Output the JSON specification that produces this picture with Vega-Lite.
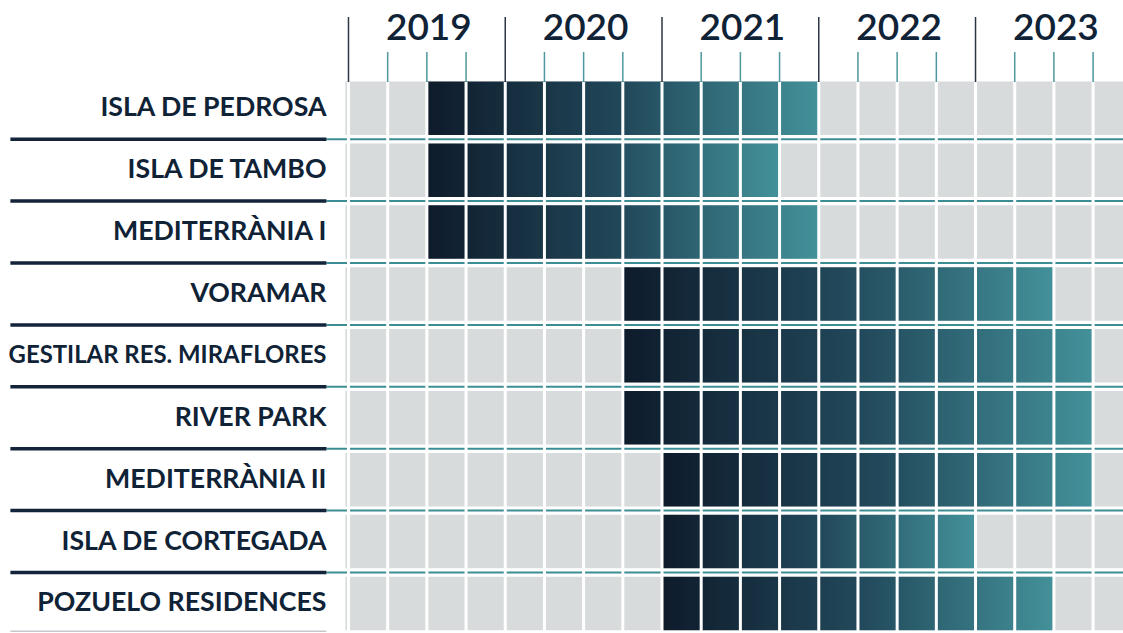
{
  "$schema": "https://vega.github.io/schema/vega-lite/v6.json",
  "width": 1123,
  "height": 633,
  "autosize": {"type": "none"},
  "padding": 0,
  "background": "white",
  "config": {"view": {"stroke": null}, "axis": {"disable": true}},
  "datasets": {
    "projects": [
      {"project": "ISLA DE PEDROSA", "row": 0, "start": 2, "end": 12},
      {"project": "ISLA DE TAMBO", "row": 1, "start": 2, "end": 11},
      {"project": "MEDITERRÀNIA I", "row": 2, "start": 2, "end": 12},
      {"project": "VORAMAR", "row": 3, "start": 7, "end": 18},
      {"project": "GESTILAR RES. MIRAFLORES", "row": 4, "start": 7, "end": 19},
      {"project": "RIVER PARK", "row": 5, "start": 7, "end": 19},
      {"project": "MEDITERRÀNIA II", "row": 6, "start": 8, "end": 19},
      {"project": "ISLA DE CORTEGADA", "row": 7, "start": 8, "end": 16},
      {"project": "POZUELO RESIDENCES", "row": 8, "start": 8, "end": 18}
    ],
    "quarters": [
      {"k": 0}, {"k": 1}, {"k": 2}, {"k": 3}, {"k": 4}, {"k": 5}, {"k": 6}, {"k": 7}, {"k": 8}, {"k": 9},
      {"k": 10}, {"k": 11}, {"k": 12}, {"k": 13}, {"k": 14}, {"k": 15}, {"k": 16}, {"k": 17}, {"k": 18}, {"k": 19}
    ],
    "years": [
      {"year": "2019", "start": 0, "mid": 2},
      {"year": "2020", "start": 4, "mid": 6},
      {"year": "2021", "start": 8, "mid": 10},
      {"year": "2022", "start": 12, "mid": 14},
      {"year": "2023", "start": 16, "mid": 18}
    ],
    "rowlines": [
      {"b": 0.5}, {"b": 1.5}, {"b": 2.5}, {"b": 3.5}, {"b": 4.5}, {"b": 5.5}, {"b": 6.5}, {"b": 7.5}
    ]
  },
  "layer": [
    {
      "data": {"name": "projects"},
      "mark": {"type": "bar", "size": 53.5, "color": "#d8dbdc"},
      "encoding": {
        "x": {"datum": -0.08, "type": "quantitative", "scale": {"domain": [-8.892, 19.763], "nice": false, "zero": false, "padding": 0}},
        "x2": {"datum": 19.763},
        "y": {"field": "row", "type": "quantitative", "scale": {"domain": [-1.7488, 8.4774], "reverse": true, "nice": false, "zero": false, "padding": 0}}
      }
    },
    {
      "data": {"name": "projects"},
      "mark": {
        "type": "bar",
        "size": 53.5,
        "color": {
          "gradient": "linear",
          "x1": 0, "y1": 0, "x2": 1, "y2": 0,
          "stops": [
            {"offset": 0, "color": "#0e1b2b"},
            {"offset": 0.5, "color": "#21485a"},
            {"offset": 1, "color": "#43919a"}
          ]
        }
      },
      "encoding": {
        "x": {"field": "start", "type": "quantitative", "scale": {"domain": [-8.892, 19.763], "nice": false, "zero": false, "padding": 0}},
        "x2": {"field": "end"},
        "y": {"field": "row", "type": "quantitative", "scale": {"domain": [-1.7488, 8.4774], "reverse": true, "nice": false, "zero": false, "padding": 0}}
      }
    },
    {
      "data": {"name": "rowlines"},
      "mark": {"type": "rule", "color": "#3d8e94", "strokeWidth": 2},
      "encoding": {
        "x": {"datum": -0.5615, "type": "quantitative", "scale": {"domain": [-8.892, 19.763], "nice": false, "zero": false, "padding": 0}},
        "x2": {"datum": 19.763},
        "y": {"field": "b", "type": "quantitative", "scale": {"domain": [-1.7488, 8.4774], "reverse": true, "nice": false, "zero": false, "padding": 0}}
      }
    },
    {
      "data": {"name": "quarters"},
      "mark": {"type": "rule", "color": "#ffffff", "strokeWidth": 3},
      "encoding": {
        "x": {"field": "k", "type": "quantitative", "scale": {"domain": [-8.892, 19.763], "nice": false, "zero": false, "padding": 0}},
        "y": {"datum": -0.424, "type": "quantitative", "scale": {"domain": [-1.7488, 8.4774], "reverse": true, "nice": false, "zero": false, "padding": 0}},
        "y2": {"datum": 8.4774}
      }
    },
    {
      "data": {"name": "rowlines"},
      "mark": {"type": "rule", "color": "#13233a", "strokeWidth": 3.5},
      "encoding": {
        "x": {"datum": -8.627, "type": "quantitative", "scale": {"domain": [-8.892, 19.763], "nice": false, "zero": false, "padding": 0}},
        "x2": {"datum": -0.5615},
        "y": {"field": "b", "type": "quantitative", "scale": {"domain": [-1.7488, 8.4774], "reverse": true, "nice": false, "zero": false, "padding": 0}}
      }
    },
    {
      "data": {"values": [{"line": "bottom"}]},
      "mark": {"type": "rule", "color": "#c4c8cc", "strokeWidth": 1.5},
      "encoding": {
        "x": {"datum": -8.627, "type": "quantitative", "scale": {"domain": [-8.892, 19.763], "nice": false, "zero": false, "padding": 0}},
        "x2": {"datum": -0.5615},
        "y": {"datum": 8.45, "type": "quantitative", "scale": {"domain": [-1.7488, 8.4774], "reverse": true, "nice": false, "zero": false, "padding": 0}}
      }
    },
    {
      "data": {"name": "years"},
      "mark": {"type": "rule", "color": "#2b3545", "strokeWidth": 1.5},
      "encoding": {
        "x": {"field": "start", "type": "quantitative", "scale": {"domain": [-8.892, 19.763], "nice": false, "zero": false, "padding": 0}},
        "y": {"datum": -1.474, "type": "quantitative", "scale": {"domain": [-1.7488, 8.4774], "reverse": true, "nice": false, "zero": false, "padding": 0}},
        "y2": {"datum": -0.424}
      }
    },
    {
      "data": {"name": "quarters"},
      "transform": [{"filter": "datum.k % 4 != 0"}],
      "mark": {"type": "rule", "color": "#4f979d", "strokeWidth": 1.5},
      "encoding": {
        "x": {"field": "k", "type": "quantitative", "scale": {"domain": [-8.892, 19.763], "nice": false, "zero": false, "padding": 0}},
        "y": {"datum": -0.909, "type": "quantitative", "scale": {"domain": [-1.7488, 8.4774], "reverse": true, "nice": false, "zero": false, "padding": 0}},
        "y2": {"datum": -0.424}
      }
    },
    {
      "data": {"name": "years"},
      "mark": {"type": "text", "font": "Lato", "fontSize": 37, "fontWeight": 600, "color": "#0f2236", "align": "center", "baseline": "alphabetic", "dx": 2},
      "encoding": {
        "x": {"field": "mid", "type": "quantitative", "scale": {"domain": [-8.892, 19.763], "nice": false, "zero": false, "padding": 0}},
        "y": {"datum": -1.1026, "type": "quantitative", "scale": {"domain": [-1.7488, 8.4774], "reverse": true, "nice": false, "zero": false, "padding": 0}},
        "text": {"field": "year"}
      }
    },
    {
      "data": {"name": "projects"},
      "mark": {"type": "text", "font": "Lato", "fontWeight": "bold", "color": "#0f2236", "align": "right", "baseline": "middle"},
      "encoding": {
        "x": {"datum": -0.5615, "type": "quantitative", "scale": {"domain": [-8.892, 19.763], "nice": false, "zero": false, "padding": 0}},
        "y": {"field": "row", "type": "quantitative", "scale": {"domain": [-1.7488, 8.4774], "reverse": true, "nice": false, "zero": false, "padding": 0}},
        "size": {"condition": {"test": "datum.project === 'GESTILAR RES. MIRAFLORES'", "value": 23.9}, "value": 26.7},
        "text": {"field": "project"}
      }
    }
  ]
}
